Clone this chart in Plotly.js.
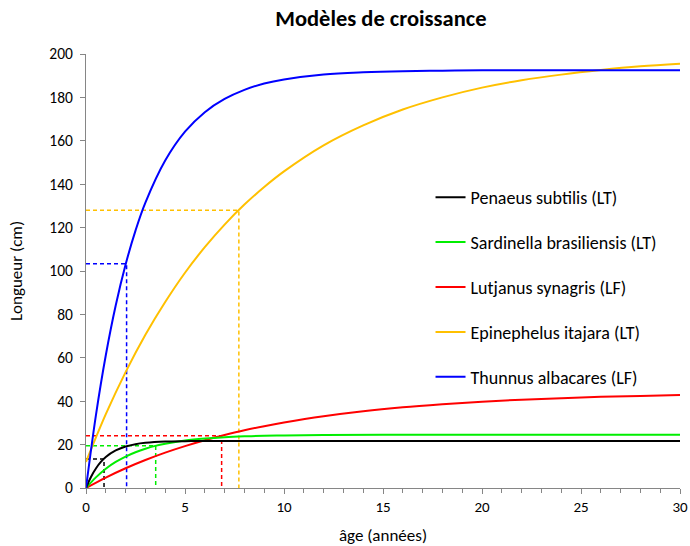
<!DOCTYPE html>
<html>
<head>
<meta charset="utf-8">
<script src="https://cdn.plot.ly/plotly-3.0.1.min.js"></script>
<style>html,body{margin:0;padding:0;background:#fff}#chart{width:690px;height:546px}</style>
</head>
<body>
<div id="chart"></div>
<script>
// Names
const speciesNames = ["Penaeus subtilis (LT)", "Sardinella brasiliensis (LT)", "Lutjanus synagris (LF)", "Epinephelus itajara (LT)", "Thunnus albacares (LF)"];

// Penaeus subtilis (black)
const agePenaeus = [0, 0.25, 0.5, 0.75, 1, 1.5, 2, 2.5, 3, 4, 5, 6, 10, 15, 20, 25, 30];
const lenPenaeus = [0, 5.1, 9.0, 12.0, 14.3, 17.3, 19.1, 20.2, 20.8, 21.4, 21.6, 21.7, 21.7, 21.7, 21.7, 21.7, 21.7];

// Sardinella brasiliensis (green)
const ageSardinella = [0, 0.5, 1, 1.5, 2, 2.5, 3, 3.5, 4, 5, 6, 7, 8, 9, 10, 12, 15, 20, 25, 30];
const lenSardinella = [0, 4.9, 8.9, 12.0, 14.5, 16.5, 18.1, 19.4, 20.4, 21.9, 22.8, 23.4, 23.8, 24.1, 24.2, 24.4, 24.5, 24.5, 24.5, 24.5];

// Lutjanus synagris (red)
const ageLutjanus = [0, 1, 2, 3, 4, 5, 6, 7, 8, 9, 10, 12, 14, 16, 18, 20, 22, 24, 26, 28, 30];
const lenLutjanus = [0, 4.8, 9.1, 12.9, 16.3, 19.3, 22.0, 24.4, 26.6, 28.5, 30.2, 33.1, 35.4, 37.2, 38.6, 39.8, 40.7, 41.4, 42.0, 42.4, 42.8];

// Epinephelus itajara (orange)
const ageEpinephelus = [0, 1, 2, 3, 4, 5, 6, 7, 8, 9, 10, 12, 14, 16, 18, 20, 22, 24, 26, 28, 30];
const lenEpinephelus = [12.0, 34.0, 53.4, 70.6, 85.7, 99.2, 111.0, 121.4, 130.6, 138.7, 145.9, 157.9, 167.1, 174.4, 180.0, 184.5, 187.9, 190.5, 192.6, 194.3, 195.5];

// Thunnus albacares (blue)
const ageThunnus = [0, 0.5, 1, 1.5, 2, 2.5, 3, 4, 5, 6, 7, 8, 9, 10, 12, 14, 16, 18, 20, 25, 30];
const lenThunnus = [0, 33.5, 61.2, 84.1, 103.0, 118.6, 131.5, 150.9, 164.2, 173.2, 179.3, 183.5, 186.4, 188.3, 190.6, 191.6, 192.1, 192.3, 192.5, 192.5, 192.5];

// Reference (dashed) points: age and length
const refAge = [0.91, 3.52, 6.85, 7.72, 2.05];
const refLen = [13.4, 19.5, 24.1, 128.0, 103.3];

const colors = ["#000000", "#00ee00", "#ff0000", "#ffc000", "#0000ff"];
const ages = [agePenaeus, ageSardinella, ageLutjanus, ageEpinephelus, ageThunnus];
const lens = [lenPenaeus, lenSardinella, lenLutjanus, lenEpinephelus, lenThunnus];

const FONT = "Carlito, Lato, 'Open Sans', sans-serif";
const traces = [];
for (let i = 0; i < 5; i++) {
  traces.push({
    x: [0, refAge[i], refAge[i]],
    y: [refLen[i], refLen[i], 0],
    mode: "lines",
    line: {color: colors[i], width: 1.5, dash: "4px,3px"},
    showlegend: false,
    hoverinfo: "skip"
  });
}
const order = [3, 2, 1, 0, 4];
const curveTraces = [];
for (let i = 0; i < 5; i++) {
  curveTraces[i] = {
    x: ages[i],
    y: lens[i],
    name: speciesNames[i],
    legendgroup: "g" + i,
    legendrank: i + 1,
    mode: "lines",
    line: {color: colors[i], width: 2, shape: "spline", smoothing: 1},
  };
}
order.forEach(i => traces.push(curveTraces[i]));

const layout = {
  width: 690, height: 546,
  margin: {l: 86, r: 10, t: 54, b: 58},
  paper_bgcolor: "#ffffff", plot_bgcolor: "#ffffff",
  font: {family: FONT, size: 14, color: "#000"},
  title: {text: "<b>Modèles de croissance</b>", font: {family: FONT, size: 22.5, color: "#000"}, x: 0.552, xanchor: "center", y: 0.966, yanchor: "middle"},
  xaxis: {
    range: [0, 30], dtick: 5, tick0: 0,
    showgrid: false, zeroline: false,
    showline: true, linecolor: "#868686", linewidth: 1,
    ticks: "outside", ticklen: 5, tickcolor: "#868686",
    minor: {dtick: 1, ticks: "outside", ticklen: 4, tickcolor: "#868686", showgrid: false},
    tickfont: {family: FONT, size: 15},
    title: {text: "âge (années)", font: {family: FONT, size: 17}, standoff: 16}
  },
  yaxis: {
    range: [0, 200], dtick: 20, tick0: 0,
    showgrid: false, zeroline: false,
    showline: true, linecolor: "#868686", linewidth: 1,
    ticks: "outside", ticklen: 5, tickcolor: "#868686",
    ticklabelstandoff: 4,
    tickfont: {family: FONT, size: 15.5},
    title: {text: "Longueur (cm)", font: {family: FONT, size: 17}, standoff: 22}
  },
  showlegend: true,
  legend: {
    x: 0.58, xanchor: "left", y: 0.712, yanchor: "top",
    bgcolor: "rgba(0,0,0,0)", borderwidth: 0,
    font: {family: FONT, size: 18, color: "#000"},
    tracegroupgap: 18.5, traceorder: "grouped", itemwidth: 30
  }
};

Plotly.newPlot("chart", traces, layout, {displayModeBar: false, staticPlot: true});
</script>
</body>
</html>
